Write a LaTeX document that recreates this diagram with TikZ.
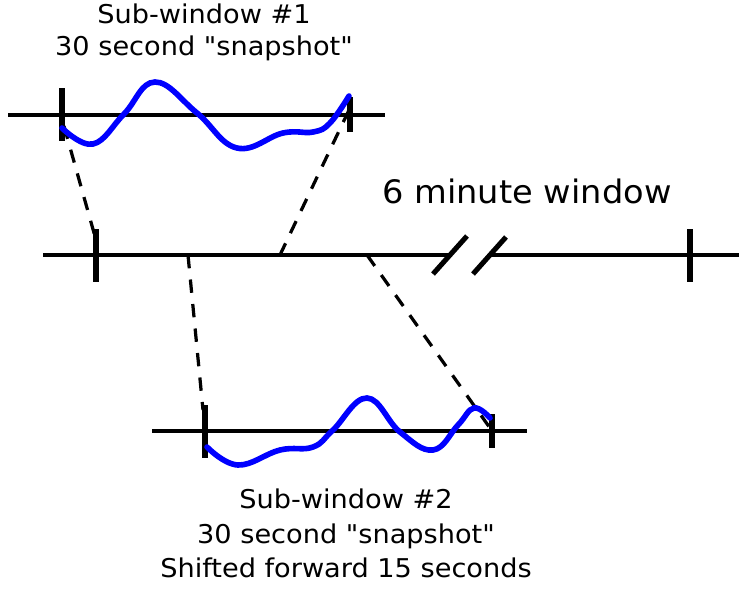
\documentclass[tikz,border=0pt]{standalone}
\usepackage{fontspec}
\newfontfamily\labelfont[FakeStretch=1.05]{DejaVu Sans}
\newfontfamily\titlefont[FakeStretch=1.04]{DejaVu Sans}
\usetikzlibrary{positioning}

\begin{document}
\begin{tikzpicture}[x=0.025cm, y=-0.025cm,
  axis/.style={line width=3.5pt},
  tickmark/.style={line width=3.6pt},
  signal/.style={blue, line width=4pt, line cap=round},
  link/.style={line width=2.3pt, dash pattern=on 9.5pt off 8pt},
  label/.style={font=\labelfont\fontsize{18.4}{24}\selectfont, inner sep=0pt, anchor=base}]
\useasboundingbox (0,0) rectangle (739,588);

% Reference points (sub-window ends and main window marks)
\coordinate (s1left)  at (62,115);
\coordinate (s1right) at (350,115);
\coordinate (mainL)   at (96,255);
\coordinate (mainR)   at (690,255);
\coordinate (s2left)  at (205,432);
\coordinate (s2right) at (492,432);

% Sub-window #1 axis
\draw[axis] (8,115) -- (385,115);
\draw[tickmark] (62,88) -- (62,141);
\draw[tickmark] (350,97) -- (350,132);

% 6 minute window axis, with the break
\draw[axis] (43,255) -- (450,255);
\draw[axis] (490,255) -- (739,255);
\draw[tickmark] (433,274) -- (467,236);
\draw[tickmark] (473,274) -- (506,237);
\draw[tickmark] (96,229) -- (96,282);
\draw[tickmark] (690,229) -- (690,282);

% Sub-window #2 axis
\draw[axis] (152,431) -- (527,431);
\draw[tickmark] (205,405) -- (205,458);
\draw[tickmark] (492,414) -- (492,448);

% Dashed links between the windows
\coordinate (p1) at (64,126);  \coordinate (q1) at (96,240);
\coordinate (p2) at (349,110); \coordinate (q2) at (280,255);
\coordinate (p3) at (188,255); \coordinate (q3) at (203,410);
\coordinate (p4) at (367,255); \coordinate (q4) at (490,428);
\draw[link] (p1) -- (q1);
\draw[link] (p2) -- (q2);
\draw[link] (p3) -- (q3);
\draw[link] (p4) -- (q4);

% The two signal snapshots
\draw[signal] plot[smooth, tension=0.7] coordinates {(62,128) (93,144) (124,114) (155,82) (197,113)
  (237,148) (283,133) (313,132) (330,123) (349,96)};
\draw[signal] plot[smooth, tension=0.7] coordinates {(207,447) (238,465) (280,450) (313,447) (333,430)
  (367,398) (400,432) (433,450) (458,425) (474,408) (490,418)};

% Labels
\node[label] (sub1)  at (204,23) {Sub-window \#1};
\node[label] (snap1) at (204,55) {30 second "snapshot"};
\node[font=\titlefont\fontsize{23}{28}\selectfont, inner sep=0pt, anchor=base] (main) at (527,203) {6 minute window};
\node[label] (sub2)   at (346,508) {Sub-window \#2};
\node[label] (snap2)  at (346,543) {30 second "snapshot"};
\node[label] (shift2) at (346,577) {Shifted forward 15 seconds};

\end{tikzpicture}
\end{document}
